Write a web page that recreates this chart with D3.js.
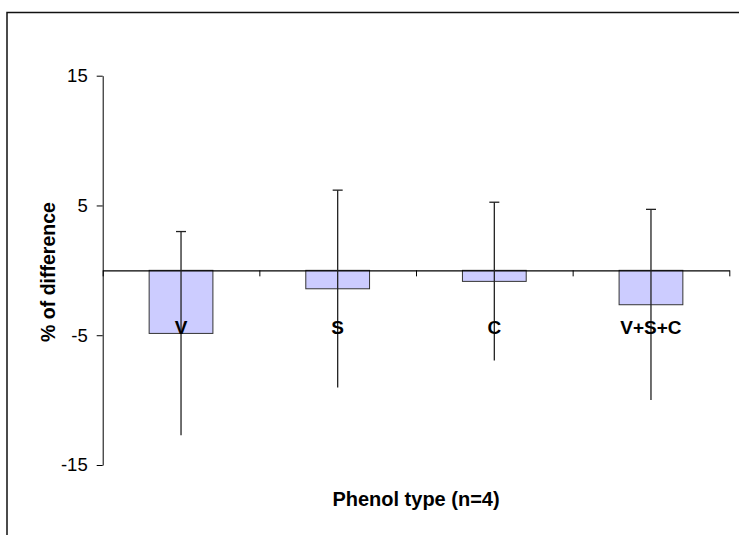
<!DOCTYPE html>
<html>
<head>
<meta charset="utf-8">
<script src="https://cdn.jsdelivr.net/npm/d3@7"></script>
<style>
  html, body { margin: 0; padding: 0; background: #fff; }
  svg { display: block; font-family: "Liberation Sans", Arial, sans-serif; }
</style>
</head>
<body>
<svg id="chart" width="739" height="535"></svg>
<script>
// Phenol types and their mean % difference with error (± half-range)
const categories = ["V", "S", "C", "V+S+C"];
const meanDiff = [-4.86, -1.42, -0.85, -2.65];
const errDiff = [7.85, 7.6, 6.1, 7.35];
const yTickValues = [15, 5, -5, -15];

const svg = d3.select("#chart");

// outer frame (extends off the right and bottom edges)
svg.append("rect")
  .attr("x", 7).attr("y", 12.5)
  .attr("width", 900).attr("height", 700)
  .attr("fill", "#fff")
  .attr("stroke", "#111").attr("stroke-width", 1.5);

const plot = { left: 102.7, right: 729.3, top: 75.7, bottom: 465 };

const y = d3.scaleLinear().domain([-15, 15]).range([plot.bottom, plot.top]);
const x = d3.scaleBand().domain(categories).range([plot.left, plot.right]).padding(0);
const xEdge = d3.scaleLinear().domain([0, categories.length]).range([plot.left, plot.right]);

const barFrac = 0.407;
const barW = x.bandwidth() * barFrac;
const cx = c => x(c) + x.bandwidth() / 2;

// bars
svg.append("g").selectAll("rect")
  .data(categories)
  .join("rect")
  .attr("x", c => cx(c) - barW / 2)
  .attr("y", (c, i) => y(Math.max(0, meanDiff[i])))
  .attr("width", barW)
  .attr("height", (c, i) => Math.abs(y(meanDiff[i]) - y(0)))
  .attr("fill", "#ccccff")
  .attr("stroke", "#333")
  .attr("stroke-width", 1);

// y axis
const yAxis = svg.append("g")
  .attr("transform", `translate(${plot.left},0)`)
  .call(d3.axisLeft(y).tickValues(yTickValues).tickFormat(d => String(d))
    .tickSize(6).tickSizeOuter(0).tickPadding(9));
yAxis.select(".domain").attr("stroke", "#000").attr("stroke-width", 1);
yAxis.selectAll(".tick line").attr("stroke", "#000");
yAxis.selectAll(".tick text")
  .attr("font-size", "18.5px").attr("fill", "#000")
  .attr("font-family", "Liberation Sans, Arial, sans-serif");

// x axis at zero with ticks at category boundaries
const xAxis = svg.append("g")
  .attr("transform", `translate(0,${y(0)})`)
  .call(d3.axisBottom(xEdge).tickValues(d3.range(categories.length + 1))
    .tickFormat("").tickSize(6).tickSizeOuter(0));
xAxis.select(".domain").attr("stroke", "#000").attr("stroke-width", 1.2);
xAxis.selectAll(".tick line").attr("stroke", "#000");

// error bars (upper cap only)
const eb = svg.append("g").attr("stroke", "#222").attr("stroke-width", 1.3);
categories.forEach((c, i) => {
  const m = meanDiff[i], e = errDiff[i];
  eb.append("line")
    .attr("x1", cx(c)).attr("x2", cx(c))
    .attr("y1", y(m + e)).attr("y2", y(m - e));
  eb.append("line")
    .attr("x1", cx(c) - 5).attr("x2", cx(c) + 5)
    .attr("y1", y(m + e)).attr("y2", y(m + e));
});

// category labels
svg.append("g").selectAll("text")
  .data(categories)
  .join("text")
  .attr("x", c => cx(c))
  .attr("y", 333.5)
  .attr("text-anchor", "middle")
  .attr("font-size", "19px")
  .attr("font-weight", "bold")
  .attr("fill", "#000")
  .text(c => c);

// axis titles
svg.append("text")
  .attr("x", (plot.left + plot.right) / 2)
  .attr("y", 506)
  .attr("text-anchor", "middle")
  .attr("font-size", "20px")
  .attr("font-weight", "bold")
  .attr("fill", "#000")
  .text("Phenol type (n=4)");

svg.append("text")
  .attr("transform", `translate(54.5,272) rotate(-90)`)
  .attr("text-anchor", "middle")
  .attr("font-size", "19.5px")
  .attr("font-weight", "bold")
  .attr("fill", "#000")
  .text("% of difference");
</script>
</body>
</html>
